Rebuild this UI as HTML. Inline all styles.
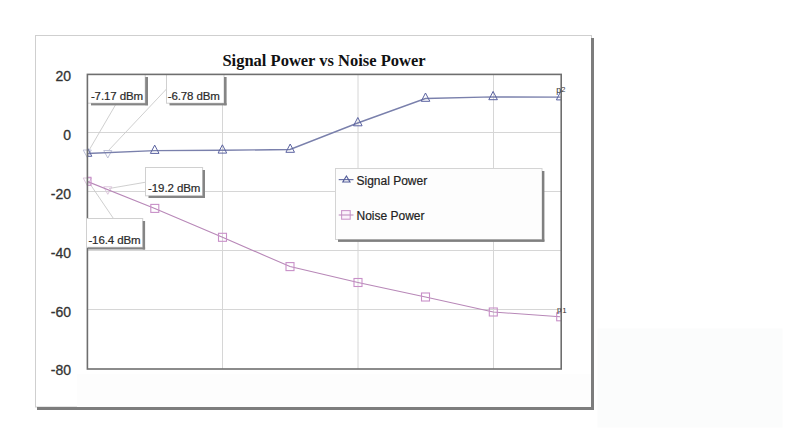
<!DOCTYPE html>
<html><head><meta charset="utf-8">
<style>
html,body{margin:0;padding:0;background:#fff;width:800px;height:447px;overflow:hidden}
svg{display:block}
.ax{font-family:"Liberation Sans",sans-serif;font-size:14px;fill:#333;stroke:#333;stroke-width:0.3px}
.lb{font-family:"Liberation Sans",sans-serif;font-size:11.5px;fill:#2a2a2a;letter-spacing:-0.1px;stroke:#2a2a2a;stroke-width:0.2px}
.lg{font-family:"Liberation Sans",sans-serif;font-size:12px;fill:#222;stroke:#222;stroke-width:0.2px}
.tt{font-family:"Liberation Serif",serif;font-size:16.5px;font-weight:bold;fill:#111}
.pl{font-family:"Liberation Sans",sans-serif;fill:#333}
</style></head><body>
<svg width="800" height="447" viewBox="0 0 800 447">
<!-- faint ghost box -->
<rect x="597.5" y="328.5" width="185" height="99" fill="#fbfcfc"/>
<!-- outer frame -->
<rect x="35.5" y="35.5" width="556" height="371.5" fill="#fff" stroke="#cfcfcf" stroke-width="1"/>
<rect x="77" y="374" width="514" height="33" fill="#fdfdfd"/>
<rect x="591" y="38" width="3" height="372" fill="#7d7d7d"/>
<rect x="37" y="407" width="557" height="3" fill="#7d7d7d"/>
<!-- plot bg -->
<rect x="87" y="74" width="474" height="294.5" fill="#fff"/>
<!-- title -->
<text class="tt" x="324" y="65.6" text-anchor="middle">Signal Power vs Noise Power</text>
<!-- gridlines -->
<g stroke="#d6d6d6" stroke-width="1">
<line x1="87" y1="132.5" x2="561" y2="132.5"/>
<line x1="87" y1="191.5" x2="561" y2="191.5"/>
<line x1="87" y1="250.5" x2="561" y2="250.5"/>
<line x1="87" y1="309.5" x2="561" y2="309.5"/>
<line x1="222.5" y1="74" x2="222.5" y2="369"/>
<line x1="358" y1="74" x2="358" y2="369"/>
<line x1="493.5" y1="74" x2="493.5" y2="369"/>
</g>
<!-- axis labels -->
<g class="ax" text-anchor="end">
<text x="71" y="80.7">20</text>
<text x="71" y="139.7">0</text>
<text x="71" y="198.7">-20</text>
<text x="71" y="257.5">-40</text>
<text x="71" y="316.5">-60</text>
<text x="71" y="375">-80</text>
</g>
<!-- leader lines -->
<g stroke="#cacaca" stroke-width="0.9" fill="none">
<line x1="116" y1="104" x2="88" y2="152"/>
<line x1="166.5" y1="89" x2="108" y2="151"/>
<line x1="145" y1="182.3" x2="109" y2="188.5"/>
<line x1="113.5" y1="218.6" x2="88" y2="181"/>
</g>
<!-- ghost markers -->
<g fill="none" stroke="#bfc2d8" stroke-width="1">
<path d="M103.7 150.5 L111.8 150.5 L107.8 158 Z"/>
<path d="M83.2 150 L91.3 150 L87.3 157.5 Z"/>
</g>
<g fill="none" stroke="#dcc6dc" stroke-width="1">
<path d="M103.7 186.8 L111.8 186.8 L107.8 194.3 Z"/>
<path d="M83.2 178 L91.3 178 L87.3 185.5 Z"/>
</g>
<defs><clipPath id="pc"><rect x="87.4" y="74.4" width="473.8" height="294.6"/></clipPath></defs>
<g clip-path="url(#pc)">
<!-- signal -->
<polyline fill="none" stroke="#7a80ac" stroke-width="1.4" points="87,153.5 154.7,150.6 222.4,150.3 290,149.5 357.7,123 425.4,98.5 493,96.9 560.7,97.1"/>
<g fill="none" stroke="#5a62a0" stroke-width="1.0">
<path d="M87.5 148 L91.8 156.3 L83.2 156.3 Z"/>
<path d="M154.7 145.1 L159 153.4 L150.4 153.4 Z"/>
<path d="M222.4 144.8 L226.7 153.1 L218.1 153.1 Z"/>
<path d="M290.2 144 L294.5 152.3 L285.9 152.3 Z"/>
<path d="M357.8 117.5 L362.1 125.8 L353.5 125.8 Z"/>
<path d="M425.5 93 L429.8 101.3 L421.2 101.3 Z"/>
<path d="M493.1 91.4 L497.4 99.7 L488.8 99.7 Z"/>
<path d="M560.7 91.6 L565 99.9 L556.4 99.9 Z"/>
</g>
<!-- noise -->
<polyline fill="none" stroke="#b888b8" stroke-width="1.1" points="87,181.3 154.8,208.4 222.5,237.3 290,266.6 358,282.5 425.5,297 493.3,312 560,316.8"/>
<g fill="none" stroke="#c890c8" stroke-width="1.1">
<rect x="83" y="177.3" width="8" height="8"/>
<rect x="150.8" y="204.4" width="8" height="8"/>
<rect x="218.5" y="233.3" width="8" height="8"/>
<rect x="286" y="262.6" width="8" height="8"/>
<rect x="354" y="278.5" width="8" height="8"/>
<rect x="421.5" y="293" width="8" height="8"/>
<rect x="489.3" y="308" width="8" height="8"/>
<rect x="556.7" y="312.8" width="8" height="8"/>
</g>
</g>
<!-- label boxes -->
<g>
<rect x="87.5" y="74.5" width="57.7" height="28.7" fill="#fff" stroke="#d0d0d0" stroke-width="1"/>
<rect x="145.2" y="77" width="2.8" height="28.2" fill="#858585"/>
<rect x="91" y="103.2" width="57" height="2.2" fill="#858585"/>
<text class="lb" x="90.9" y="99.7">-7.17 dBm</text>
</g>
<g>
<rect x="166.5" y="74.5" width="57.5" height="28.7" fill="#fff" stroke="#d0d0d0" stroke-width="1"/>
<rect x="224" y="77" width="2.6" height="28.2" fill="#858585"/>
<rect x="169.5" y="103.2" width="57.1" height="2.2" fill="#858585"/>
<text class="lb" x="167.7" y="99.8">-6.78 dBm</text>
</g>
<g>
<rect x="145.5" y="167.5" width="57.1" height="28.3" fill="#fff" stroke="#d0d0d0" stroke-width="1"/>
<rect x="202.6" y="170" width="2.4" height="28" fill="#858585"/>
<rect x="148.5" y="195.8" width="56.5" height="2.2" fill="#858585"/>
<text class="lb" x="148.1" y="192.4">-19.2 dBm</text>
</g>
<!-- plot border -->
<rect x="87.4" y="74.4" width="473.8" height="294.6" fill="none" stroke="#6e6e6e" stroke-width="1.6"/>
<g>
<rect x="86.5" y="218.5" width="56.2" height="28.8" fill="#fff" stroke="#d0d0d0" stroke-width="1"/>
<rect x="142.7" y="221" width="2.4" height="28.5" fill="#858585"/>
<rect x="88" y="247.4" width="57.1" height="2.1" fill="#858585"/>
<text class="lb" x="88.4" y="243.9">-16.4 dBm</text>
</g>
<!-- p labels -->
<text class="pl" x="556.2" y="93" font-size="8.5">p</text>
<text class="pl" x="561.3" y="92" font-size="7.5">2</text>
<text class="pl" x="557" y="312" font-size="8">p</text>
<text class="pl" x="562.3" y="312.6" font-size="8">1</text>
<!-- legend -->
<g>
<rect x="335.5" y="168.5" width="206.5" height="71" fill="#fdfdfd" stroke="#d4d4d4" stroke-width="1"/>
<rect x="542" y="171" width="2.4" height="70.5" fill="#808080"/>
<rect x="338" y="239.5" width="206.4" height="2.4" fill="#808080"/>
<line x1="338.7" y1="179.6" x2="353.5" y2="179.6" stroke="#6a72a6" stroke-width="1.2"/>
<path d="M346.4 176 L350 182 L342.8 182 Z" fill="none" stroke="#505a98" stroke-width="1.1"/>
<rect x="341.6" y="210.6" width="8.6" height="8.6" fill="#fbf2fb" stroke="#cc98cc" stroke-width="1.1"/>
<line x1="338.7" y1="215" x2="353.5" y2="215" stroke="#c090c0" stroke-width="1.1"/>
<text class="lg" x="356.5" y="184.5">Signal Power</text>
<text class="lg" x="356.5" y="219.8">Noise Power</text>
</g>
</svg>
</body></html>
